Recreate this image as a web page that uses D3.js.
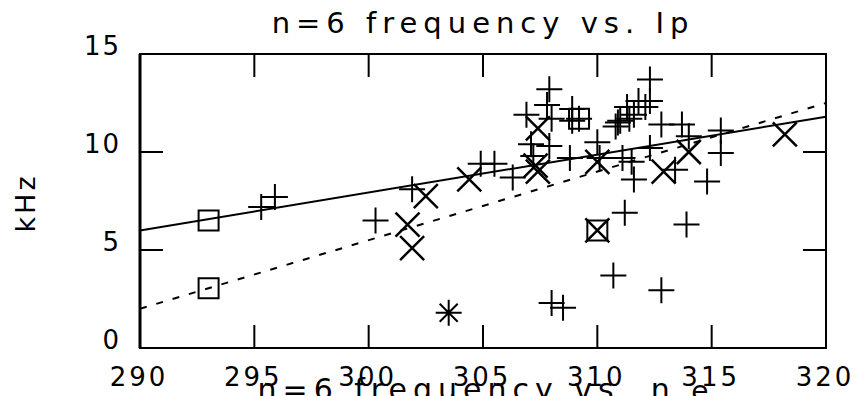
<!DOCTYPE html>
<html>
<head>
<meta charset="utf-8">
<script src="https://cdn.jsdelivr.net/npm/d3@7"></script>
<style>
  body { margin: 0; background: #fff; }
  text { font-family: "DejaVu Sans", sans-serif; fill: #000; }
</style>
</head>
<body>
<svg id="chart" width="856" height="396"></svg>
<script>
// values: [Ip, kHz]
const plusPoints = [
  [295.3, 7.2], [295.9, 7.7], [300.3, 6.5], [301.9, 8.1], [304.9, 9.4],
  [305.5, 9.4], [306.3, 8.7], [306.9, 11.9], [307.1, 10.4], [307.9, 10.3],
  [307.9, 13.2], [307.8, 12.4], [308.0, 11.7], [308.9, 12.2], [308.9, 11.6],
  [309.2, 11.7], [308.8, 9.7], [310.0, 10.5], [310.1, 9.7], [310.9, 11.5],
  [310.8, 11.3], [311.0, 11.6], [311.4, 11.7], [311.3, 12.3], [311.8, 12.6],
  [312.1, 12.3], [311.6, 11.9], [312.3, 13.7], [312.3, 12.6], [312.8, 11.4],
  [313.7, 11.4], [314.0, 10.8], [315.4, 11.1], [315.4, 9.95], [311.5, 9.5],
  [311.6, 8.6], [311.1, 9.7], [312.3, 10.2], [313.4, 9.1], [314.8, 8.5],
  [311.2, 6.9], [313.9, 6.3], [310.7, 3.7], [312.8, 2.95], [308.0, 2.3],
  [308.5, 2.05], [307.2, 9.8]
];
const crossPoints = [
  [301.7, 6.3], [301.9, 5.1], [302.5, 7.75], [304.4, 8.6], [307.3, 9.3],
  [307.4, 9.0], [307.4, 11.2], [310.0, 9.5], [312.9, 9.0], [314.0, 10.0],
  [318.2, 10.9], [310.0, 6.0]
];
const squarePoints = [[293.0, 6.5], [293.0, 3.05], [309.2, 11.7], [310.0, 6.0]];
const starPoints = [[303.5, 1.8]];
const fitSolid = [[290, 6.0], [320, 11.8]];
const fitDashed = [[290, 2.0], [320, 12.5]];
const xTicks = [290, 295, 300, 305, 310, 315, 320];
const yTicks = [0, 5, 10, 15];

const margin = { top: 54, right: 30, bottom: 48, left: 140 };
const width = 856, height = 396;

const svg = d3.select("#chart");
const x = d3.scaleLinear().domain([290, 320]).range([margin.left, width - margin.right]);
const y = d3.scaleLinear().domain([0, 15]).range([height - margin.bottom, margin.top]);

const x0 = x.range()[0], x1 = x.range()[1];
const y0 = y.range()[0], y1 = y.range()[1];
const tickLen = 23;

// title
svg.append("text")
  .attr("x", 483).attr("y", 33)
  .attr("text-anchor", "middle").attr("font-size", 29)
  .attr("letter-spacing", 6)
  .text("n=6 frequency vs. Ip");

// second title, cut off by the bottom edge as in the original
const t2 = svg.append("text")
  .attr("x", 486).attr("y", 400)
  .attr("text-anchor", "middle").attr("font-size", 30)
  .attr("letter-spacing", 6)
  .text("n=6 frequency vs. n ");
t2.append("tspan").attr("font-size", 28).attr("dy", 1).text("e");

// y label
svg.append("text")
  .attr("transform", "translate(35,203) rotate(-90)")
  .attr("text-anchor", "middle").attr("font-size", 27)
  .attr("letter-spacing", 3)
  .text("kHz");

// frame
const frame = svg.append("g").attr("stroke", "#000").attr("fill", "none");
frame.append("rect")
  .attr("x", x0).attr("y", y1).attr("width", x1 - x0).attr("height", y0 - y1)
  .attr("stroke-width", 2);
frame.append("line").attr("x1", x0).attr("x2", x0).attr("y1", y1).attr("y2", y0)
  .attr("stroke-width", 3);

// ticks inside
xTicks.filter(d => d > 290 && d < 320).forEach(d => {
  frame.append("line").attr("x1", x(d)).attr("x2", x(d)).attr("y1", y0).attr("y2", y0 - tickLen).attr("stroke-width", 2);
  frame.append("line").attr("x1", x(d)).attr("x2", x(d)).attr("y1", y1).attr("y2", y1 + tickLen).attr("stroke-width", 2);
});
yTicks.filter(d => d > 0 && d < 15).forEach(d => {
  frame.append("line").attr("x1", x0).attr("x2", x0 + tickLen).attr("y1", y(d)).attr("y2", y(d)).attr("stroke-width", 2);
  frame.append("line").attr("x1", x1).attr("x2", x1 - tickLen).attr("y1", y(d)).attr("y2", y(d)).attr("stroke-width", 2);
});

// tick labels
svg.append("g").selectAll("text").data(xTicks).join("text")
  .attr("x", d => x(d) - 1).attr("y", 386)
  .attr("text-anchor", "middle").attr("font-size", 26)
  .attr("letter-spacing", 3)
  .text(d => d);
svg.append("g").selectAll("text").data(yTicks).join("text")
  .attr("x", 121).attr("y", d => y(d) + 1)
  .attr("text-anchor", "end").attr("font-size", 26)
  .attr("letter-spacing", 2)
  .text(d => d);

// fit lines
const line = d3.line().x(d => x(d[0])).y(d => y(d[1]));
svg.append("path").datum(fitSolid).attr("d", line)
  .attr("fill", "none").attr("stroke", "#000").attr("stroke-width", 2);
svg.append("path").datum(fitDashed).attr("d", line)
  .attr("fill", "none").attr("stroke", "#000").attr("stroke-width", 2)
  .attr("stroke-dasharray", "7,10");

// markers
const r = 13;
const plusPath = `M${-r},0H${r}M0,${-r}V${r}`;
const crossPath = "M-12,-12L12,12M-12,12L12,-12";
const squarePath = "M-10,-10H10V10H-10Z";
const starPath = plusPath + "M-9,-9L9,9M-9,9L9,-9";

function drawMarks(data, path, sw) {
  svg.append("g").selectAll("path").data(data).join("path")
    .attr("transform", d => `translate(${x(d[0])},${y(d[1])})`)
    .attr("d", path)
    .attr("fill", "none").attr("stroke", "#000").attr("stroke-width", sw);
}
drawMarks(plusPoints, plusPath, 2);
drawMarks(crossPoints, crossPath, 2.5);
drawMarks(squarePoints, squarePath, 2);
drawMarks(starPoints, starPath, 2);
</script>
</body>
</html>
